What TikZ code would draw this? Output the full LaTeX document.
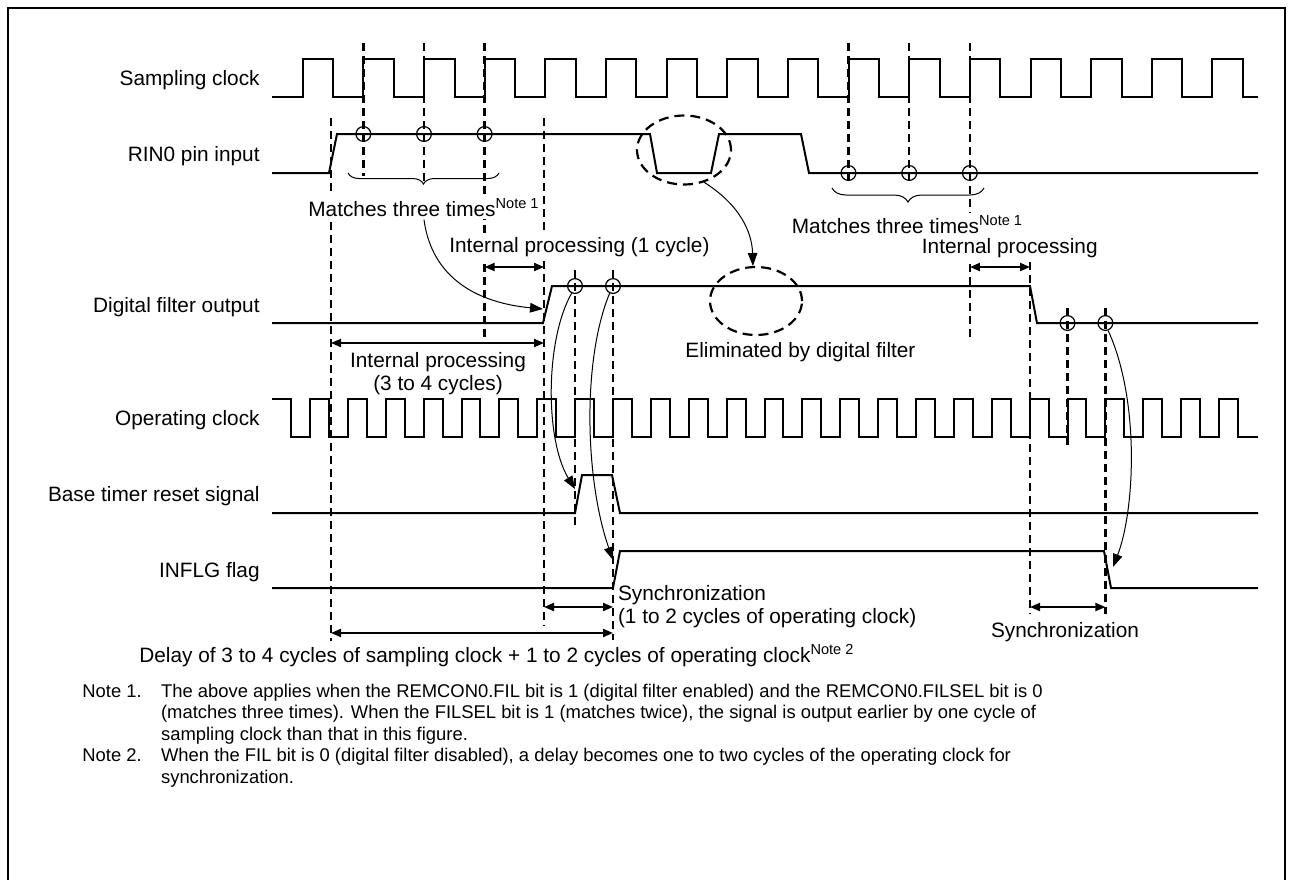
\documentclass[tikz,border=0pt]{standalone}
\usepackage{fontspec}
\setmainfont{Liberation Sans}
\usetikzlibrary{arrows.meta,positioning,shapes.geometric,decorations.pathreplacing}

\begin{document}
\begin{tikzpicture}[x=0.5pt, y=-0.5pt,
    border/.style={line width=1.3pt},
    wave/.style={line width=1pt},
    guide/.style={line width=1.2pt, dash pattern=on 4pt off 2.5pt},
    ring/.style={circle, draw, line width=0.6pt, minimum size=7.4pt, inner sep=0pt},
    blob/.style={ellipse, draw, line width=1.1pt, dash pattern=on 5pt off 3pt, inner sep=0pt},
    cause/.style={line width=0.5pt, -{Triangle[length=6.5pt, width=4.8pt]}},
    dimarrow/.style={line width=1pt, {Triangle[length=5pt, width=4pt]}-{Triangle[length=5pt, width=4pt]}},
    curly/.style={line width=0.5pt, decorate, decoration={brace, mirror, amplitude=#1}},
    lbl/.style={font=\fontsize{10.4}{11.5}\selectfont, inner sep=1.5pt},
    sname/.style={lbl, anchor=base east},
    txt/.style={lbl, anchor=base west},
    cover/.style={fill=white},
    note/.style={font=\fontsize{9.2}{10.75}\selectfont, inner sep=0pt, anchor=base west, align=left}
  ]
  \useasboundingbox (0,0) rectangle (1292,880);
  \draw[border] (8,880) -- (8,8) -- (1285,8) -- (1285,880);

  % signal names
  \node[sname] (nsamp) at (263,85)    {Sampling clock};
  \node[sname] (nrin)  at (263,161)   {RIN0 pin input};
  \node[sname] (ndfo)  at (263,312)   {Digital filter output};
  \node[sname] (nopc)  at (263,425.5) {Operating clock};
  \node[sname] (nbtr)  at (263,501.5) {Base timer reset signal};
  \node[sname] (ninf)  at (263,577)   {INFLG flag};

  % waveforms
  \draw[wave] (272,97) foreach \k in {0,...,15} {
      -- ({302.7+60.65*\k},97) -- ({302.7+60.65*\k},59)
      -- ({333.2+60.65*\k},59) -- ({333.2+60.65*\k},97) } -- (1258,97);
  \draw[wave] (272,173) -- (329,173) -- (337,134) -- (650,134) -- (657,173)
      -- (711,173) -- (719,134) -- (801,134) -- (809,173) -- (1258,173);
  \draw[wave] (272,323) -- (543,323) -- (552,286) -- (1030,286) -- (1037,323) -- (1258,323);
  \draw[wave] (272,399) -- (291,399) -- (291,437) foreach \k in {0,...,24} {
      -- ({310+37.875*\k},437) -- ({310+37.875*\k},399)
      -- ({328.94+37.875*\k},399) -- ({328.94+37.875*\k},437) } -- (1258,437);
  \draw[wave] (272,513) -- (575,513) -- (582,475) -- (612,475) -- (620,513) -- (1258,513);
  \draw[wave] (272,588) -- (613,588) -- (620,551) -- (1104,551) -- (1111,588) -- (1258,588);

  % timing guides
  \foreach \gx/\ga/\gb in {331/118/641, 363.4/43/176, 424/43/184, 484.6/43/340,
      544/118/626, 848.5/43/182, 909.2/43/182, 969.9/43/338, 1030/262/614,
      575/270/528, 613/270/640, 1067.5/308/445, 1105.4/308/614}
    \draw[guide] (\gx,\ga) -- (\gx,\gb);

  % sampling points
  \foreach \cx/\cy/\cn in {363.4/134/m1, 424/134/m2, 484.6/134/m3,
      848.5/173/m4, 909.2/173/m5, 969.9/173/m6,
      575/286/f1, 613/286/f2, 1067.5/323/f3, 1105.4/323/f4}
    \node[ring] (\cn) at (\cx,\cy) {};

  \draw[curly=5.5pt] (348,173) -- (499,173);
  \draw[curly=7pt] (832,188) -- (984,188);

  % glitch and where it is gone
  \node[blob, minimum width=47pt, minimum height=34.5pt] (glitch) at (684,150) {};
  \node[blob, minimum width=46pt, minimum height=34pt] (gone) at (756,301) {};

  % labels (base of a multi-line label is its last line)
  \node[txt, cover] (match1) at (305,216) {Matches three times\textsuperscript{Note 1}};
  \node[txt, cover] (match2) at (788.5,233) {Matches three times\textsuperscript{Note 1}};
  \node[txt, cover] (ip1) at (446,252) {Internal processing (1 cycle)};
  \node[txt, cover] (ip2) at (918.5,253) {Internal processing};
  \node[lbl, anchor=base, align=center] (ip34) at (438,390) {Internal processing\\(3 to 4 cycles)};
  \node[txt] (elim) at (682,357) {Eliminated by digital filter};
  \node[txt, align=left] (sync1) at (614.6,623) {Synchronization\\(1 to 2 cycles of operating clock)};
  \node[txt] (sync2) at (987.6,637) {Synchronization};
  \node[txt] (delay) at (136,662)
    {Delay of 3 to 4 cycles of sampling clock + 1 to 2 cycles of operating clock\textsuperscript{Note 2}};

  % spans
  \coordinate (ip1L) at (484.6,267);  \coordinate (ip1R) at (544,267);
  \coordinate (ip34L) at (331,343);   \coordinate (ip34R) at (544,343);
  \coordinate (ip2L) at (969.9,267);  \coordinate (ip2R) at (1030,267);
  \coordinate (sy1L) at (544,607);    \coordinate (sy1R) at (613,607);
  \coordinate (sy2L) at (1030,607);   \coordinate (sy2R) at (1105.4,607);
  \coordinate (dlyL) at (331,633);    \coordinate (dlyR) at (613,633);
  \draw[dimarrow] (ip1L) -- (ip1R);
  \draw[dimarrow] (ip34L) -- (ip34R);
  \draw[dimarrow] (ip2L) -- (ip2R);
  \draw[dimarrow] (sy1L) -- (sy1R);
  \draw[dimarrow] (sy2L) -- (sy2R);
  \draw[dimarrow] (dlyL) -- (dlyR);

  % cause and effect
  \coordinate (dforise) at (543,309);
  \coordinate (btrise)  at (575,489);
  \coordinate (infrise) at (613,560);
  \coordinate (inffall) at (1113,567);
  \draw[cause] (match1.south) .. controls (432,280) and (480,303) .. (dforise);
  \draw[cause] (glitch.302) .. controls (740,205) and (752,232) .. (gone.95);
  \draw[cause] (f1.245) .. controls (545,340) and (545,440) .. (btrise);
  \draw[cause] (f2.245) .. controls (582,360) and (585,480) .. (infrise);
  \draw[cause] (f4.290) .. controls (1140,400) and (1135,510) .. (inffall);

  % notes
  \node[note] (n1) at (82,697) {Note 1.};
  \node[note] (n1t) at (160.7,740) {The above applies when the REMCON0.FIL bit is 1 (digital filter enabled) and the REMCON0.FILSEL bit is 0\\(matches three times). When the FILSEL bit is 1 (matches twice), the signal is output earlier by one cycle of\\sampling clock than that in this figure.};
  \node[note] (n2) at (82,761.5) {Note 2.};
  \node[note] (n2t) at (160.7,783) {When the FIL bit is 0 (digital filter disabled), a delay becomes one to two cycles of the operating clock for\\synchronization.};
\end{tikzpicture}
\end{document}
